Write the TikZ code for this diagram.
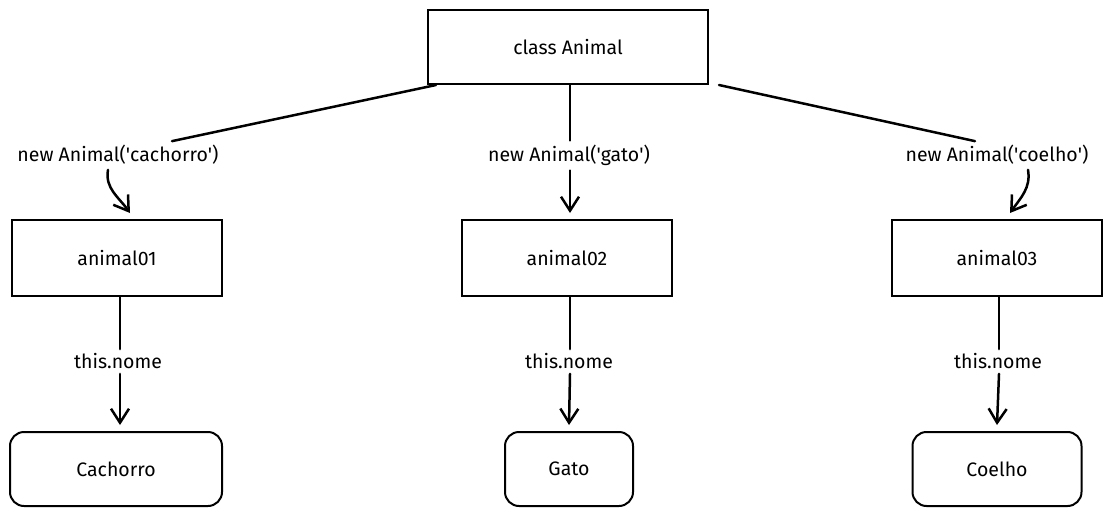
\documentclass[tikz,border=0pt]{standalone}
\usepackage{fontspec}
\setmainfont{Fira Sans}
\usetikzlibrary{arrows.meta}
\tikzset{
  classbox/.style={draw,line width=2pt,minimum width=280pt,minimum height=74pt},
  objbox/.style={draw,line width=2pt,minimum width=210pt,minimum height=76pt},
  valbox/.style={draw,line width=2pt,rounded corners=14pt,minimum height=74pt},
  conn/.style={line width=2.5pt,line cap=round},
  arr/.style={conn,-{Straight Barb[length=14pt,width=18pt,line width=2.5pt]}},
  lbl/.style={inner sep=1pt}
}
\newcommand{\q}{\textquotesingle}
\begin{document}
\begin{tikzpicture}[x=1pt,y=-1pt,font=\fontsize{19.5}{23}\selectfont]
                \useasboundingbox (0,0) rectangle (1113,516);
                \path (568,47) node[classbox] (cls) {class Animal};
                \path (117,258) node[objbox] (a01) {animal01};
                \path (567,258) node[objbox] (a02) {animal02};
                \path (997,258) node[objbox] (a03) {animal03};
                \path (116,469) node[valbox,minimum width=212pt] (v01) {Cachorro};
                \path (569,469) node[valbox,minimum width=128pt] (v02) {Gato};
                \path (997,469) node[valbox,minimum width=169pt] (v03) {Coelho};

                \path (118,155) node[lbl] (n01) {new Animal(\q cachorro\q)};
                \path (569,155) node[lbl] (n02) {new Animal(\q gato\q)};
                \path (997,155) node[lbl] (n03) {new Animal(\q coelho\q)};
                \path (118,361) node[lbl] (t01) {this.nome};
                \path (569,361) node[lbl] (t02) {this.nome};
                \path (998,361) node[lbl] (t03) {this.nome};

                % class -> objects
                \draw[conn] ([xshift=9pt]cls.south west) -- ([xshift=54pt,yshift=3pt]n01.north);
                \draw[arr] ([xshift=-10pt,yshift=-4pt]n01.south) to[out=260,in=125] ([xshift=13pt,yshift=6pt]a01.north);
                \draw[conn] ([xshift=2pt]cls.south) -- ([xshift=1pt,yshift=3pt]n02.north);
                \draw[arr] ([xshift=1pt,yshift=-4pt]n02.south) -- ([xshift=3pt,yshift=6pt]a02.north);
                \draw[conn] ([xshift=10pt]cls.south east) -- ([xshift=-22pt,yshift=3pt]n03.north);
                \draw[arr] ([xshift=31pt,yshift=-4pt]n03.south) to[out=-80,in=55] ([xshift=13pt,yshift=6pt]a03.north);

                % objects -> values
                \draw[conn] ([xshift=3pt]a01.south) -- ([xshift=2pt,yshift=3pt]t01.north);
                \draw[arr] ([xshift=2pt,yshift=-4pt]t01.south) -- ([xshift=4pt,yshift=6pt]v01.north);
                \draw[conn] ([xshift=3pt]a02.south) -- ([xshift=1pt,yshift=3pt]t02.north);
                \draw[arr] ([xshift=1pt,yshift=-4pt]t02.south) -- ([yshift=6pt]v02.north);
                \draw[conn] ([xshift=2pt]a03.south) -- ([xshift=1pt,yshift=3pt]t03.north);
                \draw[arr] ([xshift=1pt,yshift=-4pt]t03.south) -- ([yshift=6pt]v03.north);
              \end{tikzpicture}
\end{document}
